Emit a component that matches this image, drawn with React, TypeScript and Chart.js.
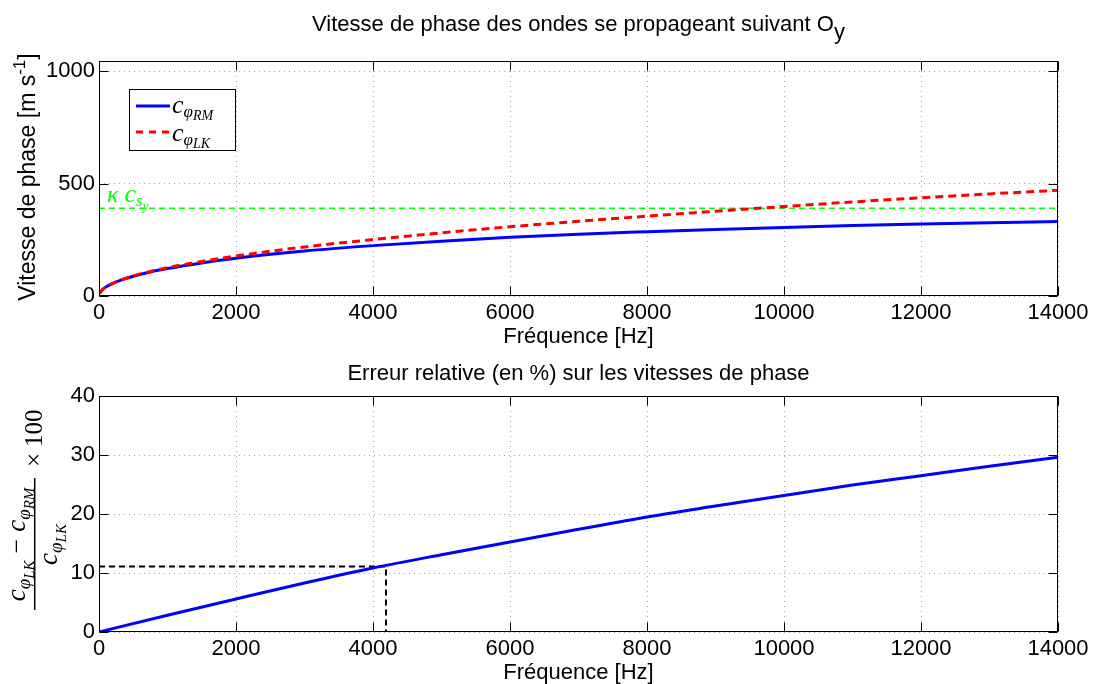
import React, { useEffect, useRef } from "react";
import { Chart, registerables } from "chart.js";
Chart.register(...registerables);

// ---------- data ----------
const freqVel = [10, 50, 100, 200, 300, 500, 750, 1000, 1500, 2000, 3000, 4000, 5000, 6000, 7000, 8000, 9000, 10000, 11000, 12000, 13000, 14000];
const velRM = [13, 28, 40, 56, 68, 88, 107, 122, 147, 168, 200, 224, 244, 261, 275, 286, 296, 305, 313, 320, 326, 331];
const velLK = [13, 28, 40, 56, 69, 89, 109, 126, 154, 178, 218, 251, 281, 308, 332, 355, 377, 398, 418, 437, 454, 470];
const kappaCsy = 390;
const freqErr = [0, 1000, 2000, 3000, 4000, 5000, 6000, 7000, 8000, 9000, 10000, 11000, 12000, 13000, 14000];
const errRel = [0, 2.85, 5.6, 8.3, 10.85, 13.1, 15.25, 17.4, 19.5, 21.35, 23.15, 24.9, 26.5, 28.1, 29.6];
const markerFreq = 4190;
const markerErr = 11.1;
const xTicks = [0, 2000, 4000, 6000, 8000, 10000, 12000, 14000];
const yTicksTop = [0, 500, 1000];
const yTicksBottom = [0, 10, 20, 30, 40];

const W = 1095;
const H = 684;
const SANS = '"Liberation Sans", Arial, sans-serif';
const SERIF = '"Liberation Serif", "DejaVu Serif", serif';

type Seg = { t: string; s: number; dy?: number; it?: boolean; f?: string; pre?: number; pad?: number };

function fontOf(s: Seg) {
  return `${s.it ? "italic " : ""}${s.s}px ${s.f || SERIF}`;
}
function drawSegs(ctx: CanvasRenderingContext2D, x: number, y: number, segs: Seg[], align: "left" | "center" = "left") {
  ctx.textAlign = "left";
  ctx.textBaseline = "alphabetic";
  let total = 0;
  for (const s of segs) {
    ctx.font = fontOf(s);
    total += (s.pre || 0) + ctx.measureText(s.t).width + (s.pad || 0);
  }
  let cx = align === "center" ? x - total / 2 : x;
  for (const s of segs) {
    ctx.font = fontOf(s);
    cx += s.pre || 0;
    ctx.fillText(s.t, cx, y + (s.dy || 0));
    cx += ctx.measureText(s.t).width + (s.pad || 0);
  }
}

function cphi(sub: string, big: number, phi: number, small: number, d1: number, d2: number): Seg[] {
  return [
    { t: "c", s: big, it: true },
    { t: "φ", s: phi, dy: d1, it: true },
    { t: sub, s: small, dy: d2, it: true, pad: 1 },
  ];
}

function makeFrame(id: string, yTicks: number[], extra: (ctx: CanvasRenderingContext2D, chart: any) => void) {
  return {
    id,
    afterDraw(chart: any) {
      const { ctx, chartArea: a, scales } = chart;
      ctx.save();
      ctx.strokeStyle = "#000";
      ctx.lineWidth = 1;
      const L = Math.round(a.left) + 0.5, R = Math.round(a.right) - 0.5;
      const T = Math.round(a.top) + 0.5, B = Math.round(a.bottom) - 0.5;
      ctx.strokeRect(L, T, R - L, B - T);
      const tl = 9;
      ctx.beginPath();
      for (const v of xTicks) {
        const px = Math.round(scales.x.getPixelForValue(v)) + 0.5;
        ctx.moveTo(px, B); ctx.lineTo(px, B - tl);
        ctx.moveTo(px, T); ctx.lineTo(px, T + tl);
      }
      for (const v of yTicks) {
        const py = Math.round(scales.y.getPixelForValue(v)) + 0.5;
        ctx.moveTo(L, py); ctx.lineTo(L + tl, py);
        ctx.moveTo(R, py); ctx.lineTo(R - tl, py);
      }
      ctx.stroke();
      ctx.fillStyle = "#000";
      extra(ctx, chart);
      ctx.restore();
    },
  };
}

function xScale(height: number) {
  return {
    type: "linear",
    min: 0,
    max: 14000,
    afterBuildTicks: (s: any) => { s.ticks = xTicks.map((v) => ({ value: v })); },
    afterFit: (s: any) => { s.height = height; },
    ticks: { font: { family: SANS, size: 22 }, color: "#000", padding: 4, maxRotation: 0, autoSkip: false, callback: (v: any) => String(v) },
    grid: { color: "#a0a0a0", drawTicks: false, lineWidth: 1 },
    border: { display: false, dash: [1, 4] },
  };
}
function yScale(max: number, ticks: number[]) {
  return {
    type: "linear",
    min: 0,
    max,
    afterBuildTicks: (s: any) => { s.ticks = ticks.map((v) => ({ value: v })); },
    afterFit: (s: any) => { s.width = 99; },
    ticks: { font: { family: SANS, size: 22 }, color: "#000", padding: 4, callback: (v: any) => String(v) },
    grid: { color: "#a0a0a0", drawTicks: false, lineWidth: 1 },
    border: { display: false, dash: [1, 4] },
  };
}

function topConfig(): any {
  const extra = (ctx: CanvasRenderingContext2D) => {
    ctx.fillStyle = "#000";
    drawSegs(ctx, 578.5, 31, [
      { t: "Vitesse de phase des ondes se propageant suivant O", s: 22, f: SANS },
      { t: "y", s: 22, dy: 8, f: SANS },
    ], "center");
    drawSegs(ctx, 578.5, 343, [{ t: "Fréquence [Hz]", s: 22, f: SANS }], "center");
    // y label
    ctx.save();
    ctx.translate(35, 177);
    ctx.rotate(-Math.PI / 2);
    drawSegs(ctx, 0, 0, [
      { t: "Vitesse de phase [m s", s: 23, f: SANS },
      { t: "-1", s: 17, dy: -10, f: SANS },
      { t: "]", s: 23, f: SANS },
    ], "center");
    ctx.restore();
    // legend
    ctx.fillStyle = "#fff";
    ctx.fillRect(129.5, 89.5, 106, 61);
    ctx.strokeStyle = "#000";
    ctx.lineWidth = 1;
    ctx.strokeRect(129.5, 89.5, 106, 61);
    ctx.lineWidth = 3;
    ctx.strokeStyle = "#0000ff";
    ctx.beginPath(); ctx.moveTo(136, 106); ctx.lineTo(170, 106); ctx.stroke();
    ctx.strokeStyle = "#ff0000";
    ctx.setLineDash([7, 6]);
    ctx.beginPath(); ctx.moveTo(136, 132); ctx.lineTo(170, 132); ctx.stroke();
    ctx.setLineDash([]);
    ctx.fillStyle = "#000";
    drawSegs(ctx, 172, 113, [
      { t: "c", s: 26, it: true },
      { t: "φ", s: 17, dy: 4, it: true },
      { t: "RM", s: 14, dy: 7, it: true },
    ]);
    drawSegs(ctx, 172, 141, [
      { t: "c", s: 26, it: true },
      { t: "φ", s: 17, dy: 4, it: true },
      { t: "LK", s: 14, dy: 7, it: true },
    ]);
    // green label
    ctx.fillStyle = "#00ff00";
    drawSegs(ctx, 107, 202, [
      { t: "κ", s: 24, it: true, pad: 6 },
      { t: "c", s: 26, it: true },
      { t: "s", s: 17, dy: 4, it: true },
      { t: "y", s: 13, dy: 8, it: true },
    ]);
  };
  return {
    type: "line",
    data: {
      datasets: [
        {
          label: "LK",
          data: freqVel.map((f, i) => ({ x: f, y: velLK[i] })),
          borderColor: "#ff0000",
          borderWidth: 3,
          borderDash: [8, 5],
          pointRadius: 0,
          cubicInterpolationMode: "monotone",
          order: 0,
        },
        {
          label: "RM",
          data: freqVel.map((f, i) => ({ x: f, y: velRM[i] })),
          borderColor: "#0000ff",
          borderWidth: 3,
          pointRadius: 0,
          cubicInterpolationMode: "monotone",
          order: 1,
        },
        {
          label: "kcs",
          data: [{ x: 0, y: kappaCsy }, { x: 14000, y: kappaCsy }],
          borderColor: "#00ff00",
          borderWidth: 1.6,
          borderDash: [6, 4],
          pointRadius: 0,
          order: 2,
        },
      ],
    },
    options: {
      animation: false,
      responsive: false,
      devicePixelRatio: 1,
      events: [],
      layout: { padding: { left: 0, right: 37, top: 61, bottom: H - 296 - 46 } },
      plugins: { legend: { display: false }, tooltip: { enabled: false }, title: { display: false } },
      scales: { x: xScale(46), y: yScale(1045, yTicksTop) },
    },
    plugins: [makeFrame("frameTop", yTicksTop, extra)],
  };
}

function bottomConfig(): any {
  const extra = (ctx: CanvasRenderingContext2D) => {
    ctx.fillStyle = "#000";
    drawSegs(ctx, 578.5, 380, [{ t: "Erreur relative (en %) sur les vitesses de phase", s: 22, f: SANS }], "center");
    drawSegs(ctx, 578.5, 679, [{ t: "Fréquence [Hz]", s: 22, f: SANS }], "center");
    // math y label
    ctx.save();
    ctx.translate(34.7, 544);
    ctx.rotate(-Math.PI / 2);
    ctx.strokeStyle = "#000";
    ctx.lineWidth = 1.5;
    ctx.beginPath(); ctx.moveTo(-66, 0); ctx.lineTo(66, 0); ctx.stroke();
    drawSegs(ctx, 0, -10, [
      ...cphi("LK", 27, 19, 15, 5, 9),
      { t: "−", s: 26, pre: 6, pad: 7 },
      ...cphi("RM", 27, 19, 15, 5, 9),
    ], "center");
    drawSegs(ctx, 0, 22, cphi("LK", 27, 19, 15, 5, 9), "center");
    drawSegs(ctx, 77, 7, [
      { t: "×", s: 25, pad: 6 },
      { t: "100", s: 25 },
    ]);
    ctx.restore();
  };
  return {
    type: "line",
    data: {
      datasets: [
        {
          label: "marker",
          data: [{ x: 0, y: markerErr }, { x: markerFreq, y: markerErr }, { x: markerFreq, y: 0 }],
          borderColor: "#000",
          borderWidth: 2,
          borderDash: [6, 4],
          pointRadius: 0,
          order: 1,
        },
        {
          label: "err",
          data: freqErr.map((f, i) => ({ x: f, y: errRel[i] })),
          borderColor: "#0000ff",
          borderWidth: 3,
          pointRadius: 0,
          cubicInterpolationMode: "monotone",
          order: 0,
        },
      ],
    },
    options: {
      animation: false,
      responsive: false,
      devicePixelRatio: 1,
      events: [],
      layout: { padding: { left: 0, right: 37, top: 396, bottom: 0 } },
      plugins: { legend: { display: false }, tooltip: { enabled: false }, title: { display: false } },
      scales: { x: xScale(H - 632), y: yScale(40, yTicksBottom) },
    },
    plugins: [makeFrame("frameBottom", yTicksBottom, extra)],
  };
}

export default function App() {
  const r1 = useRef<HTMLCanvasElement>(null);
  const r2 = useRef<HTMLCanvasElement>(null);
  useEffect(() => {
    const c1 = new Chart(r1.current as HTMLCanvasElement, topConfig());
    const c2 = new Chart(r2.current as HTMLCanvasElement, bottomConfig());
    return () => {
      c1.destroy();
      c2.destroy();
    };
  }, []);
  const cs: React.CSSProperties = { position: "absolute", left: 0, top: 0, width: W, height: H };
  return (
    <div style={{ position: "fixed", left: 0, top: 0, width: W, height: H, background: "#fff" }}>
      <canvas ref={r1} width={W} height={H} style={cs} />
      <canvas ref={r2} width={W} height={H} style={cs} />
    </div>
  );
}
